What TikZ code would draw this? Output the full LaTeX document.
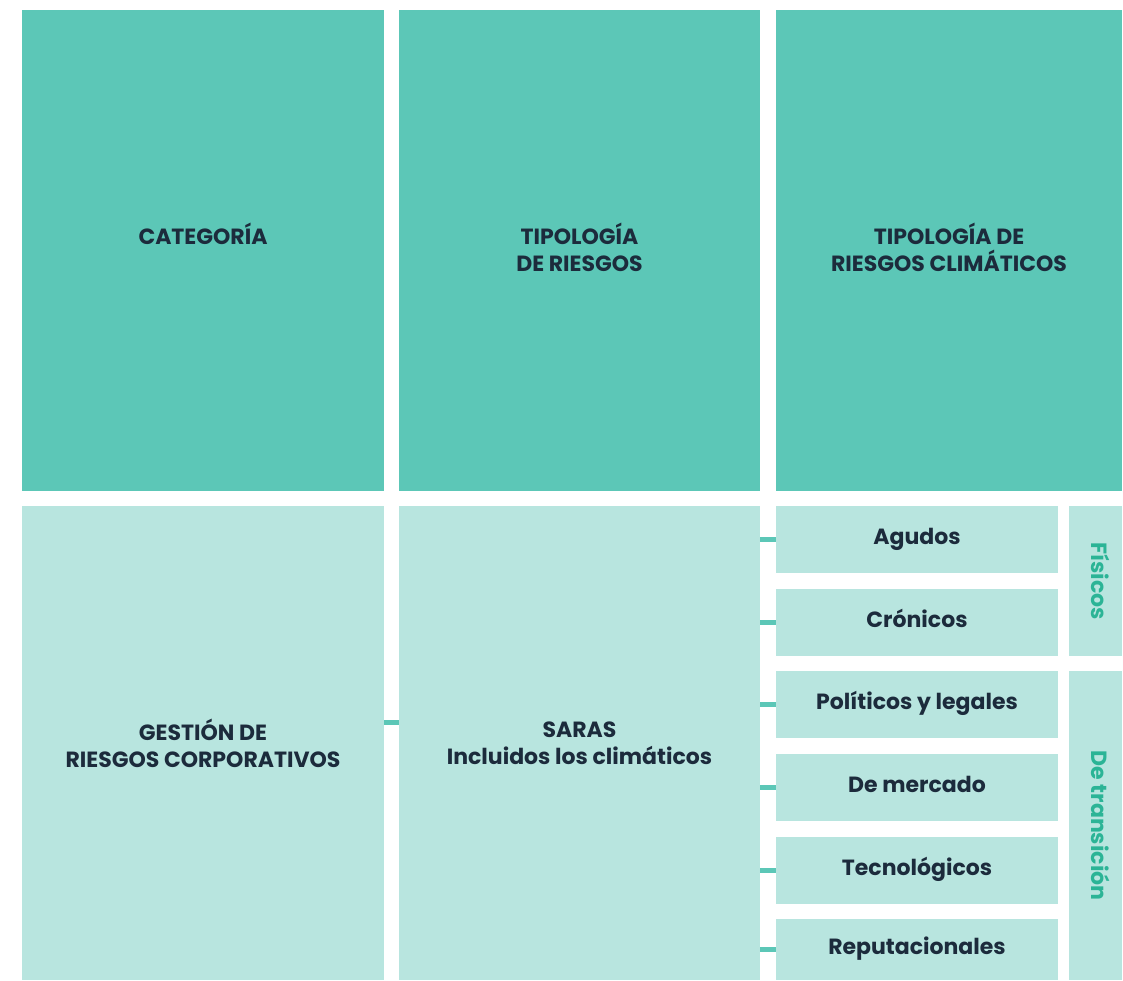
\documentclass[tikz,border=0pt]{standalone}
\usepackage{fontspec}
\setmainfont{Poppins}
\definecolor{tealdark}{HTML}{5CC7B7}
\definecolor{teallight}{HTML}{B8E5DF}
\definecolor{inkblue}{HTML}{1C2B3C}
\definecolor{tealtext}{HTML}{2BB496}
\tikzset{
    boxtext/.style={inner sep=0pt,outer sep=0pt,align=center,font=\fontsize{22}{27}\selectfont\bfseries},
    oneline/.style={text height=15pt,text depth=6pt},
    headbox/.style={boxtext,fill=tealdark,text=inkblue,text depth=6pt},
    bodybox/.style={boxtext,fill=teallight,text=inkblue},
    itembox/.style={boxtext,oneline,fill=teallight,text=inkblue,minimum width=282pt,minimum height=67pt},
    sidebox/.style={boxtext,oneline,fill=teallight,text=tealtext,rotate=-90,minimum height=53pt},
    link/.style={draw=tealdark,line width=5pt}
}
\begin{document}
\begin{tikzpicture}[x=1pt,y=-1pt]
    \useasboundingbox (0,0) rectangle (1123,981);
    % top row
    \node[headbox,minimum width=362pt,minimum height=481pt] (cat) at (203,250.5) {CATEGORÍA\\\mbox{}};
    \node[headbox,minimum width=361pt,minimum height=481pt] (tip) at (579.5,250.5) {TIPOLOGÍA\\DE RIESGOS};
    \node[headbox,minimum width=346pt,minimum height=481pt] (clim) at (949,250.5) {TIPOLOGÍA DE\\RIESGOS CLIMÁTICOS};
    % bottom row
    \node[bodybox,minimum width=362pt,minimum height=474pt] (gest) at (203,743) {GESTIÓN DE\\RIESGOS CORPORATIVOS};
    \node[bodybox,minimum width=361pt,minimum height=474pt] (saras) at (579.5,743) {SARAS\\Incluidos los climáticos};
    \node[itembox] (agu) at (917,539.5) {Agudos};
    \node[itembox] (cro) at (917,622.5) {Crónicos};
    \node[itembox] (pol) at (917,704.5) {Políticos y legales};
    \node[itembox] (mer) at (917,787.5) {De mercado};
    \node[itembox] (tec) at (917,870.5) {Tecnológicos};
    \node[itembox,minimum height=61pt] (rep) at (917,949.5) {Reputacionales};
    % side labels
    \node[sidebox,minimum width=150pt] (fis) at (1095.5,581) {Físicos};
    \node[sidebox,minimum width=309pt] (tra) at (1095.5,825.5) {De transición};
    % connectors
    \draw[link] (gest.east |- 0,722) -- (saras.west |- 0,722);
    \foreach \b in {agu,cro,pol,mer,tec,rep}
        \draw[link] (saras.east |- \b.west) -- (\b.west);
\end{tikzpicture}
\end{document}
